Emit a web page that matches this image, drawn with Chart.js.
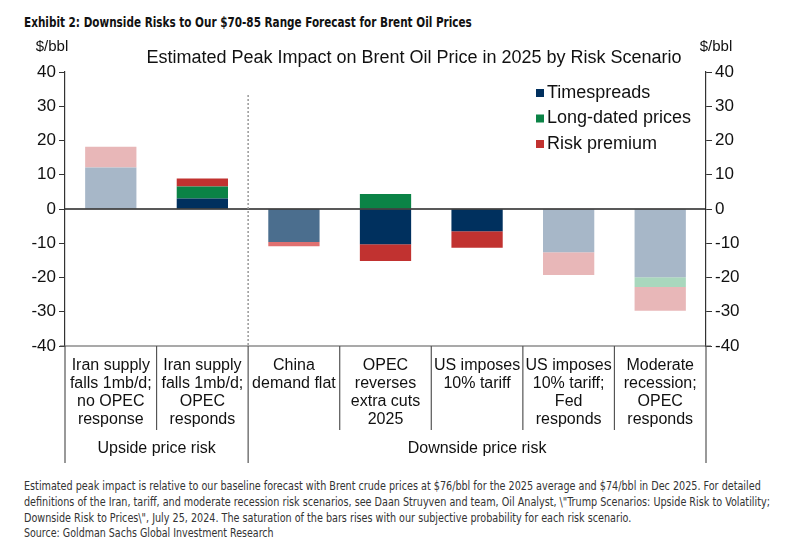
<!DOCTYPE html>
<html>
<head>
<meta charset="utf-8">
<script src="https://cdn.jsdelivr.net/npm/chart.js@4.4.1/dist/chart.umd.min.js"></script>
<style>
  body { margin: 0; background: #fff; width: 791px; height: 550px; overflow: hidden; }
  .fit { position: absolute; left: 24px; white-space: nowrap; transform-origin: 0 0; color: #333; font-family: "DejaVu Sans Condensed", sans-serif; }
  #exhibit { top: 14px; font-size: 14px; font-weight: bold; color: #111; }
  #wrap { position: absolute; left: 0; top: 0; width: 791px; height: 470px; }
  #notes { top: 478px; font-size: 12px; line-height: 16px; }
  #source { top: 526px; font-size: 12px; }
</style>
</head>
<body>
<div id="exhibit" class="fit" data-w="448">Exhibit 2: Downside Risks to Our $70-85 Range Forecast for Brent Oil Prices</div>
<div id="wrap"><canvas id="riskChart" width="791" height="470"></canvas></div>
<div id="notes" class="fit" data-w="746">Estimated peak impact is relative to our baseline forecast with Brent crude prices at $76/bbl for the 2025 average and $74/bbl in Dec 2025. For detailed<br>definitions of the Iran, tariff, and moderate recession risk scenarios, see Daan Struyven and team, Oil Analyst, \"Trump Scenarios: Upside Risk to Volatility;<br>Downside Risk to Prices\", July 25, 2024. The saturation of the bars rises with our subjective probability for each risk scenario.</div>
<div id="source" class="fit" data-w="250">Source: Goldman Sachs Global Investment Research</div>

<script>
// scenario labels (one array of lines per bar)
const scenarios = [
  ['Iran supply', 'falls 1mb/d;', 'no OPEC', 'response'],
  ['Iran supply', 'falls 1mb/d;', 'OPEC', 'responds'],
  ['China', 'demand flat'],
  ['OPEC', 'reverses', 'extra cuts', '2025'],
  ['US imposes', '10% tariff'],
  ['US imposes', '10% tariff;', 'Fed', 'responds'],
  ['Moderate', 'recession;', 'OPEC', 'responds']
];
const groups = ['Upside price risk', 'Downside price risk'];
const groupSizes = [2, 5];

// $/bbl contributions
const timespreads = [12.1, 3.1, -9.6, -10.3, -6.5, -12.6, -19.9];
const longDated   = [0, 3.5, 0, 4.4, 0, 0, -2.9];
const riskPremium = [6.1, 2.3, -1.3, -4.9, -4.8, -6.7, -6.9];

// subjective probability: 0 low, 1 medium, 2 high
const probability = [0, 2, 1, 2, 2, 0, 0];

const yTicks = [-40, -30, -20, -10, 0, 10, 20, 30, 40];

const palette = {
  Timespreads: ['#a7b7c8', '#4b6e8e', '#00305e'],
  'Long-dated prices': ['#a9d7bd', '#55ad80', '#0b8346'],
  'Risk premium': ['#e8b7b8', '#e07070', '#c13230']
};

// squeeze the condensed-font text blocks to the reference widths
document.querySelectorAll('.fit').forEach(el => {
  const k = Number(el.dataset.w) / el.scrollWidth;
  el.style.transform = `scaleX(${k})`;
});

function makeSet(label, values) {
  return {
    label,
    data: values,
    backgroundColor: probability.map(p => palette[label][p]),
    legendColor: palette[label][2],
    borderWidth: 0,
    barPercentage: 0.56,
    categoryPercentage: 1
  };
}

const FONT = '"Liberation Sans", Arial, sans-serif';

const decorations = {
  id: 'decorations',
  afterDraw(chart) {
    const ctx = chart.ctx;
    const area = chart.chartArea;
    const y = chart.scales.y;
    const n = scenarios.length;
    const step = (area.right - area.left) / n;
    const bx = i => area.left + step * i;
    ctx.save();

    // zero line
    ctx.strokeStyle = '#222';
    ctx.lineWidth = 1.5;
    ctx.beginPath();
    ctx.moveTo(area.left, y.getPixelForValue(0));
    ctx.lineTo(area.right, y.getPixelForValue(0));
    ctx.stroke();

    // dotted split between upside and downside
    ctx.strokeStyle = '#999';
    ctx.lineWidth = 1.5;
    ctx.setLineDash([2, 2]);
    ctx.beginPath();
    ctx.moveTo(bx(groupSizes[0]), 95);
    ctx.lineTo(bx(groupSizes[0]), area.bottom);
    ctx.stroke();
    ctx.setLineDash([]);

    // label table
    ctx.strokeStyle = '#555';
    ctx.lineWidth = 1.2;
    ctx.beginPath();
    ctx.moveTo(area.left - 5, area.bottom);
    ctx.lineTo(area.right + 5, area.bottom);
    ctx.stroke();
    const groupEdges = [0];
    groupSizes.forEach(s => groupEdges.push(groupEdges[groupEdges.length - 1] + s));
    for (let i = 0; i <= n; i++) {
      const isGroup = groupEdges.includes(i);
      ctx.beginPath();
      ctx.moveTo(bx(i), area.bottom);
      ctx.lineTo(bx(i), isGroup ? 463 : 430);
      ctx.stroke();
    }

    ctx.fillStyle = '#111';
    ctx.font = '16px ' + FONT;
    ctx.textAlign = 'center';
    ctx.textBaseline = 'middle';
    scenarios.forEach((lines, i) => {
      lines.forEach((t, j) => ctx.fillText(t, bx(i) + step / 2, 366 + j * 18));
    });
    groups.forEach((g, k) => {
      const mid = (bx(groupEdges[k]) + bx(groupEdges[k + 1])) / 2;
      ctx.fillText(g, mid, 449);
    });

    // titles and units
    ctx.font = '18px ' + FONT;
    ctx.fillText('Estimated Peak Impact on Brent Oil Price in 2025 by Risk Scenario', 414, 58);
    ctx.font = '15px ' + FONT;
    ctx.fillText('$/bbl', 52, 47);
    ctx.fillText('$/bbl', 716, 47);

    // legend
    ctx.textAlign = 'left';
    ctx.font = '18px ' + FONT;
    chart.data.datasets.forEach((ds, k) => {
      const ly = 93 + k * 25.5;
      ctx.fillStyle = ds.legendColor;
      ctx.fillRect(536, ly - 4, 8, 8);
      ctx.fillStyle = '#111';
      ctx.fillText(ds.label, 547, ly);
    });
    ctx.restore();
  }
};

const tickFont = { family: FONT, size: 17 };

new Chart(document.getElementById('riskChart'), {
  type: 'bar',
  data: {
    labels: scenarios.map(s => s.join(' ')),
    datasets: [
      makeSet('Timespreads', timespreads),
      makeSet('Long-dated prices', longDated),
      makeSet('Risk premium', riskPremium)
    ]
  },
  options: {
    responsive: false,
    animation: false,
    layout: { padding: { top: 72, bottom: 124, left: 0, right: 0 } },
    plugins: { legend: { display: false }, tooltip: { enabled: false }, title: { display: false } },
    scales: {
      x: { stacked: true, display: false },
      y: {
        stacked: true,
        position: 'left',
        min: -40, max: 40,
        afterBuildTicks: s => { s.ticks = yTicks.map(v => ({ value: v })); },
        afterFit: s => { s.width = 65; },
        ticks: { color: '#111', font: tickFont, padding: 3 },
        grid: { drawOnChartArea: false, tickLength: 6, color: '#333' },
        border: { color: '#333', width: 1.2 }
      },
      y2: {
        position: 'right',
        min: -40, max: 40,
        afterBuildTicks: s => { s.ticks = yTicks.map(v => ({ value: v })); },
        afterFit: s => { s.width = 85; },
        ticks: { color: '#111', font: tickFont, padding: 3 },
        grid: { drawOnChartArea: false, tickLength: 6, color: '#333' },
        border: { color: '#333', width: 1.2 }
      }
    }
  },
  plugins: [decorations]
});
</script>
</body>
</html>
